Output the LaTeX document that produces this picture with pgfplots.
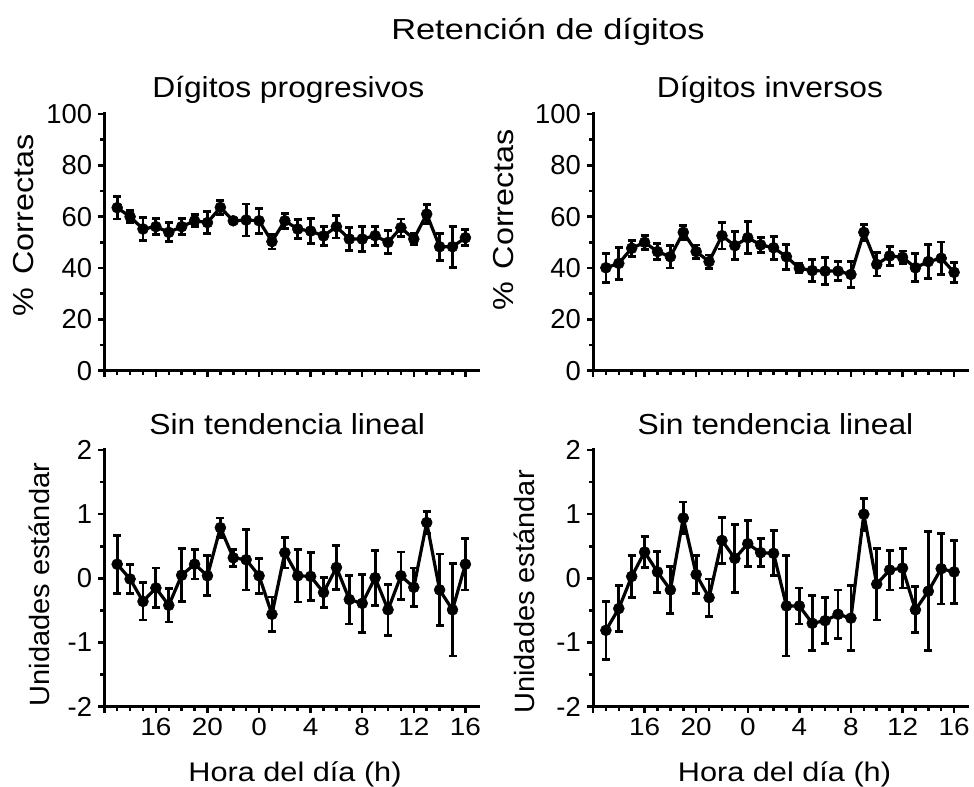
\documentclass[border=0pt]{standalone}
\usepackage{fontspec}
\setmainfont{Liberation Sans}
\usepackage{graphicx}
\usepackage{pgfplots}
\pgfplotsset{compat=1.18}
\usepackage{pgfplotstable}

\newcommand\sx[1]{\scalebox{1.12}[1]{#1}}

\pgfplotstableread{
x y e
13 63.5 4.4
14 60.0 2.4
15 55.2 4.6
16 56.1 3.2
17 53.9 3.7
18 56.1 3.2
19 58.4 2.3
20 57.7 4.2
21 63.6 2.6
22 58.4 1.0
23 58.7 6.2
24 58.4 4.9
25 50.3 2.9
26 58.4 2.9
27 55.2 3.6
28 54.4 4.8
29 52.5 3.7
30 56.1 4.4
31 51.3 4.5
32 51.3 5.0
33 52.6 3.7
34 50.0 4.5
35 55.7 3.4
36 51.3 2.1
37 61.0 3.8
38 48.3 5.3
39 48.3 8.0
40 51.8 3.1
}\tabTL

\pgfplotstableread{
x y e
13 40.1 5.6
14 41.8 6.3
15 47.7 3.1
16 50.0 2.7
17 46.4 3.2
18 44.4 4.4
19 53.9 2.7
20 46.4 2.6
21 42.5 2.6
22 52.6 5.2
23 48.7 5.5
24 51.8 6.3
25 49.0 2.9
26 47.9 4.5
27 44.4 4.9
28 39.9 1.8
29 39.0 4.2
30 38.8 5.2
31 38.8 3.7
32 37.5 5.0
33 53.9 3.1
34 41.4 4.5
35 44.7 3.6
36 44.2 2.4
37 40.1 5.4
38 42.5 6.7
39 43.8 6.3
40 38.3 4.0
}\tabTR

\pgfplotstableread{
x y e
13 0.22 0.45
14 -0.01 0.22
15 -0.36 0.29
16 -0.15 0.31
17 -0.42 0.26
18 0.05 0.41
19 0.22 0.23
20 0.04 0.31
21 0.79 0.15
22 0.32 0.13
23 0.29 0.47
24 0.04 0.27
25 -0.56 0.27
26 0.40 0.24
27 0.04 0.41
28 0.03 0.37
29 -0.22 0.23
30 0.17 0.34
31 -0.33 0.38
32 -0.39 0.45
33 0.01 0.43
34 -0.49 0.40
35 0.04 0.37
36 -0.14 0.30
37 0.87 0.17
38 -0.18 0.56
39 -0.49 0.72
40 0.22 0.40
}\tabBL

\pgfplotstableread{
x y e
13 -0.81 0.45
14 -0.47 0.36
15 0.03 0.33
16 0.41 0.24
17 0.10 0.32
18 -0.18 0.37
19 0.94 0.25
20 0.06 0.29
21 -0.30 0.29
22 0.59 0.36
23 0.31 0.53
24 0.54 0.36
25 0.40 0.22
26 0.39 0.35
27 -0.43 0.78
28 -0.43 0.28
29 -0.70 0.43
30 -0.66 0.36
31 -0.56 0.38
32 -0.62 0.51
33 1.00 0.25
34 -0.09 0.56
35 0.13 0.31
36 0.16 0.31
37 -0.49 0.36
38 -0.20 0.93
39 0.15 0.55
40 0.10 0.49
}\tabBR

\pgfplotsset{
  panel/.style={
    scale only axis, width=374bp, height=256.7bp,
    axis lines=left,
    axis line style={-, line width=3bp, line cap=rect},
    tick align=outside,
    major tick length=6bp, minor tick length=4bp,
    major tick style={line width=2.5bp, black},
    minor tick style={line width=2.5bp, black},
    xmin=12, xmax=41,
    xtick={12,16,...,40},
    minor x tick num=3,
    yticklabel style={font=\fontsize{27.5}{30}\selectfont, inner sep=6bp},
    xticklabel style={font=\fontsize{25}{28}\selectfont, inner sep=5bp},
    /pgf/number format/assume math mode=true,
    clip=false,
    title style={font=\fontsize{29}{32}\selectfont, anchor=base, at={(0.5,1)}, yshift=11bp},
  },
  withx/.style={xticklabels={,\sx{16},\sx{20},\sx{0},\sx{4},\sx{8},\sx{12},\sx{16}}},
  nox/.style={xticklabels={}},
  pct/.style={ymin=0, ymax=100, ytick={0,20,...,100}, minor y tick num=1},
  sd/.style={ymin=-2, ymax=2, ytick={-2,-1,0,1,2}, minor y tick num=1},
  dat/.style={black, line width=3.2bp, line join=round, mark=*, mark size=5.5bp,
    mark options={solid, fill=black, line width=0.5bp},
    error bars/y dir=both, error bars/y explicit,
    error bars/error bar style={line width=2.8bp, black},
    error bars/error mark options={rotate=90, mark size=4bp, line width=2.8bp, black}},
}

\begin{document}
\fontsize{27.5}{30}\selectfont
\begin{tikzpicture}
\useasboundingbox (0,0) rectangle (974bp,787bp);

\node[anchor=base, font=\fontsize{29}{32}\selectfont] at (548bp,747.7bp) {\scalebox{1.19}[1]{Retención de dígitos}};

\begin{axis}[panel, pct, nox, at={(104.3bp,416.3bp)}, anchor=south west,
  title={\scalebox{1.1}[1]{Dígitos progresivos}}, title style={xshift=-3bp}]
\addplot[dat] table[x=x, y=y, y error=e] {\tabTL};
\end{axis}

\begin{axis}[panel, pct, nox, at={(593bp,416.3bp)}, anchor=south west,
  title={\scalebox{1.1}[1]{Dígitos inversos}}, title style={xshift=-10bp}]
\addplot[dat] table[x=x, y=y, y error=e] {\tabTR};
\end{axis}

\begin{axis}[panel, sd, withx, at={(104.3bp,80.3bp)}, anchor=south west,
  title={\scalebox{1.1}[1]{Sin tendencia lineal}}, title style={xshift=-4bp, yshift=-1bp}]
\addplot[dat] table[x=x, y=y, y error=e] {\tabBL};
\end{axis}

\begin{axis}[panel, sd, withx, at={(593bp,80.3bp)}, anchor=south west,
  title={\scalebox{1.1}[1]{Sin tendencia lineal}}, title style={xshift=-4.5bp, yshift=-1bp}]
\addplot[dat] table[x=x, y=y, y error=e] {\tabBR};
\end{axis}

\begin{scope}[font=\fontsize{29}{32}\selectfont]
\node[rotate=90, anchor=base] at (33bp,561.5bp) {\scalebox{1.12}[1]{\%\hspace{0.12em} Correctas}};
\node[rotate=90, anchor=base] at (513bp,567bp) {\scalebox{1.12}[1]{\%\hspace{0.12em} Correctas}};
\end{scope}
\begin{scope}[font=\fontsize{28}{30}\selectfont]
\node[rotate=90, anchor=base] at (49bp,202.3bp) {\scalebox{1.04}[1]{Unidades estándar}};
\node[rotate=90, anchor=base] at (534bp,195bp) {\scalebox{1.04}[1]{Unidades estándar}};
\end{scope}

\begin{scope}[font=\fontsize{27}{30}\selectfont]
\node[anchor=base] at (295bp,6bp) {\scalebox{1.14}[1]{Hora del día (h)}};
\node[anchor=base] at (784.5bp,6bp) {\scalebox{1.14}[1]{Hora del día (h)}};
\end{scope}
\end{tikzpicture}
\end{document}
